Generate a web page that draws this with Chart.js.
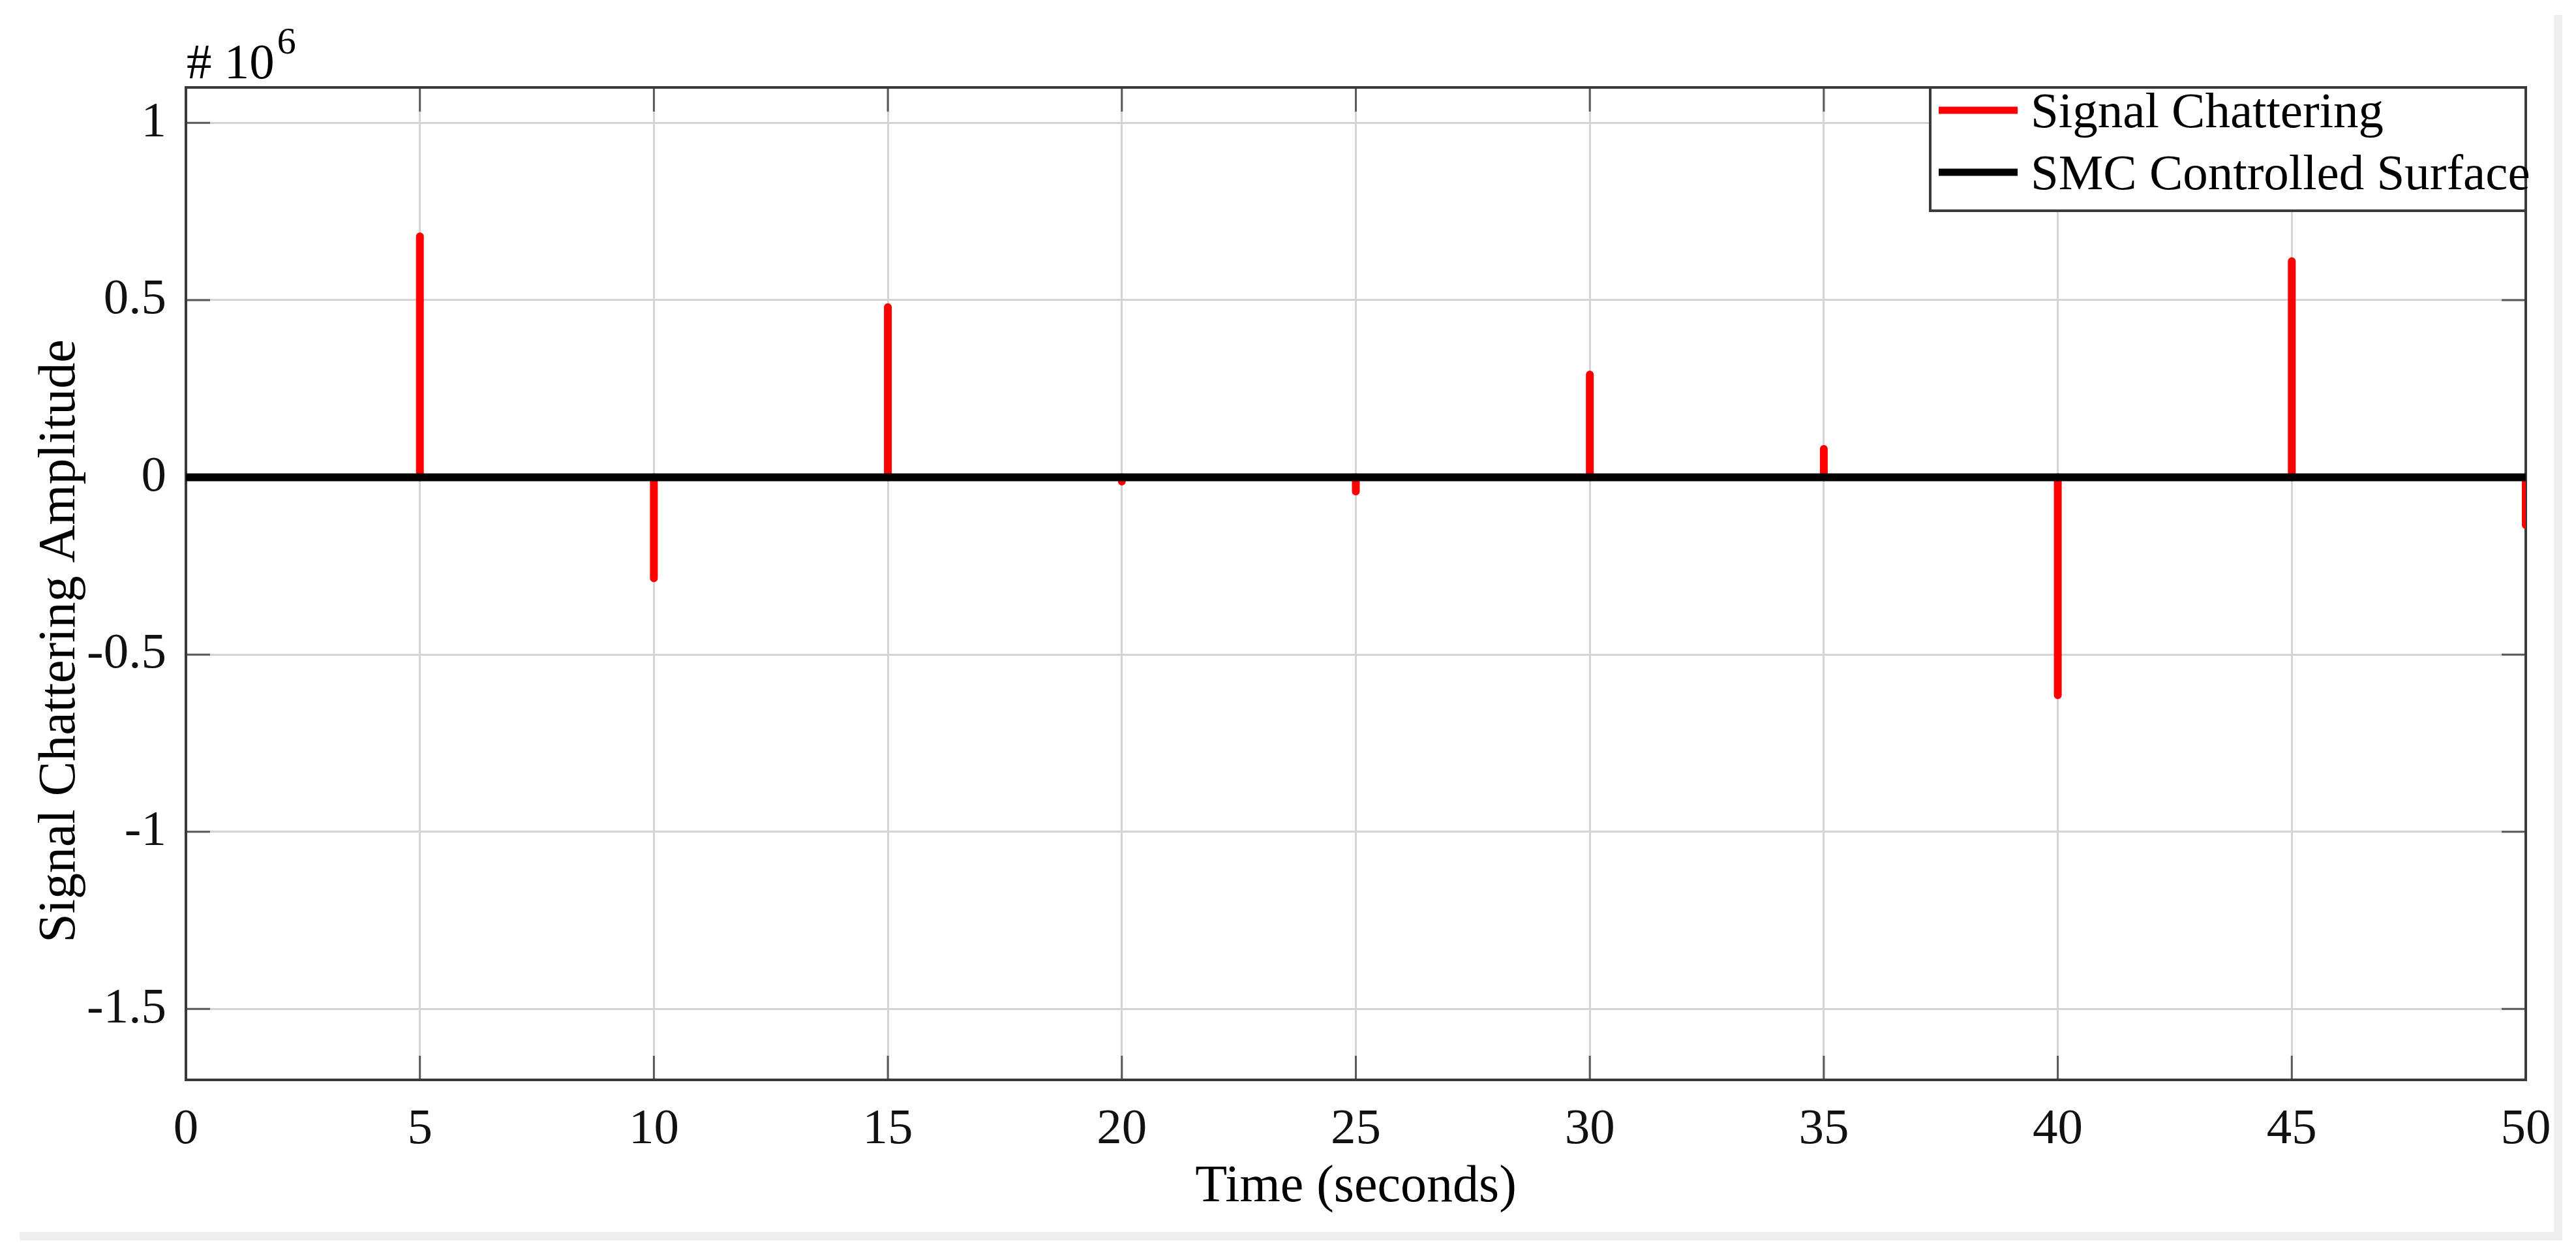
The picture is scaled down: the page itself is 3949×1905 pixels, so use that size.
<!DOCTYPE html>
<html><head><meta charset="utf-8">
<script src="https://cdn.jsdelivr.net/npm/chart.js@4.4.1/dist/chart.umd.min.js"></script>
<style>
html,body{margin:0;padding:0;background:#fff;}
#wrap{position:relative;width:3949px;height:1905px;overflow:hidden;background:#fff;}
.band{position:absolute;background:#efefef;}
canvas{position:absolute;left:0;top:0;}
</style></head><body>
<div id="wrap">
<div class="band" style="left:3915px;top:23px;width:13px;height:1878px;"></div>
<div class="band" style="left:30px;top:1888px;width:3898px;height:13px;"></div>
<canvas id="c" width="3949" height="1905" style="width:3949px;height:1905px;"></canvas>
</div>
<script>
// ---- data (amplitudes in units of 10^6) ----
const chatterTimes  = [5, 10, 15, 20, 25, 30, 35, 40, 45, 50];
const chatterValues = [0.68, -0.285, 0.48, -0.012, -0.04, 0.29, 0.08, -0.615, 0.61, -0.135];
const surfaceTimes  = [0, 50];
const surfaceValues = [0, 0];
const xTickValues = [0, 5, 10, 15, 20, 25, 30, 35, 40, 45, 50];
const yTickValues = [-1.5, -1, -0.5, 0, 0.5, 1];
const seriesLabels = ['Signal Chattering', 'SMC Controlled Surface'];
const xTitle = 'Time (seconds)';
const yTitle = 'Signal Chattering Amplitude';
const exponentBase = '# 10';
const exponentPower = '6';

// ---- build datasets from the arrays ----
const chatterData = [];
chatterTimes.forEach((t, i) => {
  chatterData.push({x: t, y: 0});
  chatterData.push({x: t, y: chatterValues[i]});
  chatterData.push({x: t, y: null});
});
const surfaceData = surfaceTimes.map((t, i) => ({x: t, y: surfaceValues[i]}));

const FONT = '"Liberation Serif", "Times New Roman", serif';
const AX = '#3a3a3a';

const framePlugin = {
  id: 'frame',
  beforeDatasetsDraw(chart) {
    const {ctx, chartArea: a, scales} = chart;
    const L = 37;
    ctx.save();
    ctx.strokeStyle = '#5a5a5a';
    ctx.lineWidth = 3;
    xTickValues.forEach(v => {
      const px = scales.x.getPixelForValue(v);
      ctx.beginPath();
      ctx.moveTo(px, a.bottom); ctx.lineTo(px, a.bottom - L);
      ctx.moveTo(px, a.top); ctx.lineTo(px, a.top + L);
      ctx.stroke();
    });
    yTickValues.forEach(v => {
      const py = scales.y.getPixelForValue(v);
      ctx.beginPath();
      ctx.moveTo(a.left, py); ctx.lineTo(a.left + L, py);
      ctx.moveTo(a.right, py); ctx.lineTo(a.right - L, py);
      ctx.stroke();
    });
    ctx.strokeStyle = AX;
    ctx.lineWidth = 4;
    ctx.strokeRect(a.left, a.top, a.right - a.left, a.bottom - a.top);
    ctx.restore();
  },
  afterDraw(chart) {
    const {ctx, chartArea: a} = chart;
    ctx.save();
    // y-axis title
    ctx.save();
    ctx.translate(93, (a.top + a.bottom) / 2 + 88);
    ctx.rotate(-Math.PI / 2);
    ctx.fillStyle = '#000';
    ctx.font = '80px ' + FONT;
    ctx.textAlign = 'center';
    ctx.textBaseline = 'middle';
    ctx.fillText(yTitle, 0, 0);
    ctx.restore();
    // exponent label
    ctx.fillStyle = '#000';
    ctx.textBaseline = 'alphabetic';
    ctx.textAlign = 'left';
    ctx.font = '77px ' + FONT;
    ctx.fillText(exponentBase, a.left + 1, a.top - 14);
    const w = ctx.measureText(exponentBase).width;
    ctx.font = '58px ' + FONT;
    ctx.fillText(exponentPower, a.left + 1 + w + 4, a.top - 52);
    // legend
    const boxL = a.right - 913, boxT = a.top, boxB = a.top + 189;
    ctx.fillStyle = '#fff';
    ctx.fillRect(boxL, boxT, a.right - boxL, boxB - boxT);
    ctx.strokeStyle = AX;
    ctx.lineWidth = 4;
    ctx.strokeRect(boxL, boxT, a.right - boxL, boxB - boxT);
    const rows = [a.top + 41, a.top + 136];
    chart.data.datasets.forEach((ds, i) => {
      ctx.strokeStyle = ds.borderColor;
      ctx.lineWidth = 11;
      ctx.lineCap = 'butt';
      ctx.beginPath();
      ctx.moveTo(boxL + 13, rows[i] - 6);
      ctx.lineTo(boxL + 134, rows[i] - 6);
      ctx.stroke();
      ctx.fillStyle = '#000';
      ctx.font = '77px ' + FONT;
      ctx.textBaseline = 'middle';
      ctx.fillText(ds.label, boxL + 154, rows[i]);
    });
    ctx.restore();
  }
};

new Chart(document.getElementById('c'), {
  type: 'line',
  data: {
    datasets: [
      {label: seriesLabels[0], data: chatterData, borderColor: '#ff0000', borderWidth: 12,
       pointRadius: 0, borderCapStyle: 'round', spanGaps: false, tension: 0, order: 1},
      {label: seriesLabels[1], data: surfaceData, borderColor: '#000000', borderWidth: 12,
       pointRadius: 0, borderCapStyle: 'butt', tension: 0, order: 0}
    ]
  },
  options: {
    responsive: false,
    animation: false,
    devicePixelRatio: 1,
    layout: {padding: {top: 134, right: 77, left: 0, bottom: 0}},
    scales: {
      x: {
        type: 'linear', min: 0, max: 50,
        afterBuildTicks: s => { s.ticks = xTickValues.map(v => ({value: v})); },
        afterFit: s => { s.height = 250; },
        grid: {color: '#d4d4d4', lineWidth: 3, drawTicks: false},
        border: {display: false},
        ticks: {font: {family: FONT, size: 77}, color: '#111', padding: 31, maxRotation: 0,
                callback: v => String(v)},
        title: {display: true, text: xTitle, color: '#000', font: {family: FONT, size: 80},
                padding: {top: 0, bottom: 37}}
      },
      y: {
        type: 'linear', min: -1.7, max: 1.1,
        afterBuildTicks: s => { s.ticks = yTickValues.map(v => ({value: v})); },
        afterFit: s => { s.width = 285; },
        grid: {color: '#d4d4d4', lineWidth: 3, drawTicks: false},
        border: {display: false},
        ticks: {font: {family: FONT, size: 77}, color: '#111', padding: 30,
                callback: v => String(v)},
        title: {display: false, text: yTitle}
      }
    },
    plugins: {legend: {display: false}, tooltip: {enabled: false}}
  },
  plugins: [framePlugin]
});
</script>
</body></html>
